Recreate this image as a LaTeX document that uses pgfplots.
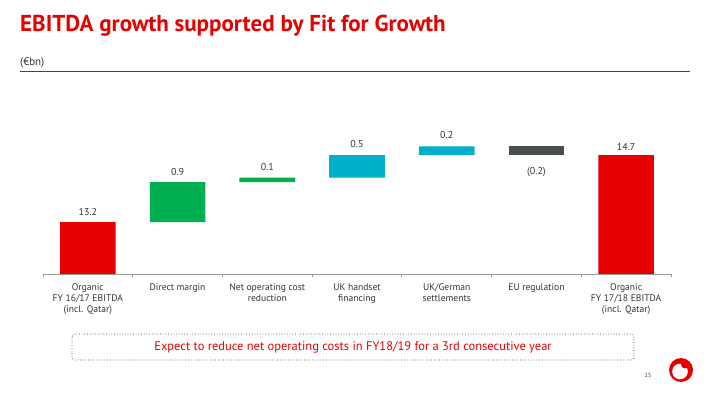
\documentclass[border=0pt]{standalone}
\usepackage{fontspec}
\setmainfont{PT Sans}
\usepackage{pgfplots}
\pgfplotsset{compat=1.18}
\definecolor{vred}{HTML}{E60000}
\definecolor{vgreen}{HTML}{00B050}
\definecolor{vcyan}{HTML}{00B0CA}
\definecolor{vgray}{HTML}{4A4D4E}
\definecolor{vtext}{HTML}{333333}
\definecolor{vaxis}{HTML}{999999}
\tikzset{lbl/.style={font=\fontsize{10}{12}\selectfont, text=vtext, inner sep=0pt, anchor=base}}
\begin{document}
\begin{tikzpicture}
\path[use as bounding box] (0pt,0pt) rectangle (720pt,405pt);
\node[anchor=base west, inner sep=0, text=vred, font=\fontsize{23}{27}\selectfont\bfseries] at (20pt,373pt) {EBITDA growth supported by Fit for Growth};
\node[anchor=base west, inner sep=0, font=\fontsize{11}{13}\selectfont, text=vtext] at (20pt,339pt) {(€bn)};
\fill[vred] (20pt,332.8pt) rectangle (690pt,334.3pt);

\begin{axis}[
  at={(43pt,131pt)}, anchor=south west, scale only axis,
  width=628pt, height=150pt,
  xmin=-0.5, xmax=6.5, ymin=12.04, ymax=15.4,
  axis y line=none, axis x line*=bottom,
  x axis line style={vaxis, line width=0.9pt},
  ybar stacked, bar width=0.62,
  xtick={0,...,6},
  major tick length=0pt,
  minor xtick={-0.5,0.5,...,6.5},
  minor tick length=3pt,
  tick align=outside,
  tick pos=bottom,
  minor tick style={vaxis, line width=0.8pt},
  xticklabels={{Organic\\FY 16/17 EBITDA\\(incl. Qatar)}, {Direct margin}, {Net operating cost\\reduction}, {UK handset\\financing}, {UK/German\\settlements}, {EU regulation}, {Organic\\FY 17/18 EBITDA\\(incl. Qatar)}},
  xticklabel style={align=center, font=\fontsize{9.6}{11.2}\selectfont, text=vtext, anchor=north, yshift=-6pt},
]
\addplot[draw=none, fill=white, fill opacity=0] coordinates {(0,0) (1,13.2) (2,14.1) (3,14.2) (4,14.7) (5,14.7) (6,0)};
\addplot[draw=none, fill=vred] coordinates {(0,13.2) (1,0) (2,0) (3,0) (4,0) (5,0) (6,14.7)};
\addplot[draw=none, fill=vgreen] coordinates {(0,0) (1,0.9) (2,0.1) (3,0) (4,0) (5,0) (6,0)};
\addplot[draw=none, fill=vcyan] coordinates {(0,0) (1,0) (2,0) (3,0.5) (4,0.2) (5,0) (6,0)};
\addplot[draw=none, fill=vgray] coordinates {(0,0) (1,0) (2,0) (3,0) (4,0) (5,0.2) (6,0)};
\node[lbl, yshift=6.5pt] at (axis cs:0,13.2) {13.2};
\node[lbl, yshift=6.5pt] at (axis cs:1,14.1) {0.9};
\node[lbl, yshift=7pt] at (axis cs:2,14.2) {0.1};
\node[lbl, yshift=8pt] at (axis cs:3,14.7) {0.5};
\node[lbl, yshift=8pt] at (axis cs:4,14.9) {0.2};
\node[lbl, yshift=-19pt] at (axis cs:5,14.7) {(0.2)};
\node[lbl, yshift=5pt] at (axis cs:6,14.7) {14.7};
\end{axis}

\draw[vtext, dotted, rounded corners=3pt, line width=0.7pt] (72pt,71pt) rectangle (634pt,45pt);
\node[text=vred, font=\fontsize{12.5}{15}\selectfont] at (353pt,58pt) {Expect to reduce net operating costs in FY18/19 for a 3rd consecutive year};
\node[font=\fontsize{6}{7}\selectfont, text=vtext] at (648pt,30pt) {15};
\fill[vred] (681pt,35pt) circle (12pt);
\fill[white] (680pt,33.5pt) circle (7.8pt);
\fill[vred] (685pt,40.5pt) circle (4pt);
\end{tikzpicture}
\end{document}
